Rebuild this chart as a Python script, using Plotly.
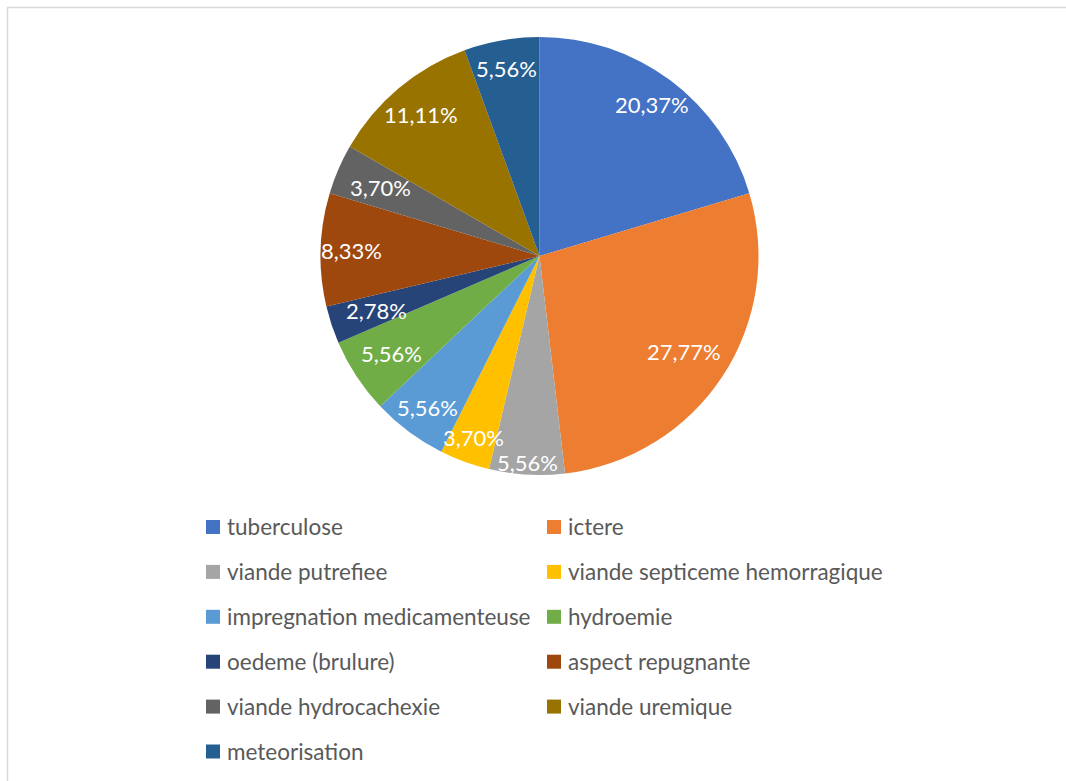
import math
import plotly.graph_objects as go

# Causes of carcass seizure (share of cases, %)
categories = [
    "tuberculose",
    "ictere",
    "viande putrefiee",
    "viande septiceme hemorragique",
    "impregnation medicamenteuse",
    "hydroemie",
    "oedeme (brulure)",
    "aspect repugnante",
    "viande hydrocachexie",
    "viande uremique",
    "meteorisation",
]
shares = [20.37, 27.77, 5.56, 3.70, 5.56, 5.56, 2.78, 8.33, 3.70, 11.11, 5.56]

colors = [
    "#4472C4", "#ED7D31", "#A5A5A5", "#FFC000", "#5B9BD5", "#70AD47",
    "#264478", "#9E480E", "#636363", "#997300", "#255E91",
]

# Radial placement of each percentage label (fraction of the radius)
label_radius = [0.86, 0.79, 0.945, 0.88, 0.86, 0.81, 0.785, 0.86, 0.79, 0.845, 0.87]

W, H = 1066, 781
CX, CY, R = 539.5, 256.0, 219.0
FONT = "Lato, 'Open Sans', sans-serif"
LABEL_SIZE = 22
LEGEND_SIZE = 22.5


def px(x):
    return x / W


def py(y):
    return 1 - y / H


def fmt(v):
    return f"{v:.2f}".replace(".", ",") + "%"


fig = go.Figure()
fig.add_trace(go.Pie(
    labels=categories,
    values=shares,
    sort=False,
    direction="clockwise",
    rotation=0,
    marker=dict(colors=colors, line=dict(width=0)),
    textinfo="none",
    hoverinfo="label+percent",
    showlegend=False,
    domain=dict(x=[px(CX - R), px(CX + R)], y=[py(CY + R), py(CY - R)]),
))

annotations = []
shapes = []

# Percentage labels placed at each slice's mid-angle
total = sum(shares)
cum = 0.0
for v, rf in zip(shares, label_radius):
    mid = (cum + v / 2) / total * 2 * math.pi
    cum += v
    lx = CX + rf * R * math.sin(mid)
    ly = CY - rf * R * math.cos(mid)
    annotations.append(dict(
        x=px(lx), y=py(ly), xref="paper", yref="paper",
        text=fmt(v), showarrow=False, xanchor="center", yanchor="middle",
        font=dict(family=FONT, size=LABEL_SIZE, color="white"),
    ))

# Two-column legend below the pie
col_x = [206, 547]
row_y0, row_step = 527.0, 44.9
for i, (name, c) in enumerate(zip(categories, colors)):
    col = i % 2
    row = i // 2
    x0 = col_x[col]
    yc = row_y0 + row * row_step
    shapes.append(dict(
        type="rect", xref="paper", yref="paper",
        x0=px(x0), x1=px(x0 + 14), y0=py(yc + 7), y1=py(yc - 7),
        fillcolor=c, line=dict(width=0),
    ))
    annotations.append(dict(
        x=px(x0 + 19), y=py(yc - 0.5), xref="paper", yref="paper",
        text=name, showarrow=False, xanchor="left", yanchor="middle",
        font=dict(family=FONT, size=LEGEND_SIZE, color="#595959"),
    ))

# Chart area frame
shapes.append(dict(
    type="rect", xref="paper", yref="paper",
    x0=px(7.5), x1=px(W + 5), y0=py(H + 5), y1=py(7.5),
    line=dict(color="#D9D9D9", width=1.5), fillcolor="rgba(0,0,0,0)",
))

fig.update_layout(
    width=W, height=H,
    margin=dict(l=0, r=0, t=0, b=0),
    paper_bgcolor="white",
    plot_bgcolor="white",
    annotations=annotations,
    shapes=shapes,
)

fig.write_html("out.html")
